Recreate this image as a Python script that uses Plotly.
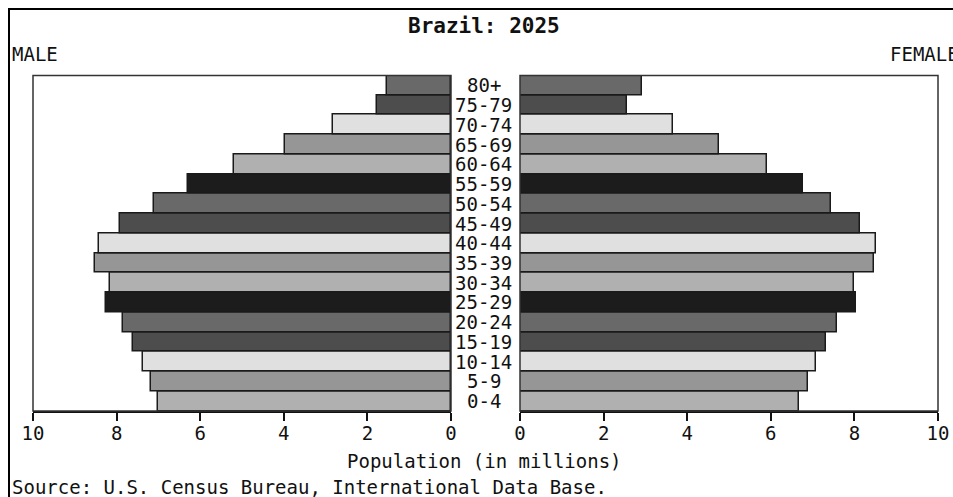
import plotly.graph_objects as go

# ---- data ----
age_groups = ["0-4", "5-9", "10-14", "15-19", "20-24", "25-29", "30-34", "35-39",
              "40-44", "45-49", "50-54", "55-59", "60-64", "65-69", "70-74", "75-79", "80+"]
male = [7.02, 7.18, 7.38, 7.61, 7.84, 8.25, 8.15, 8.52,
        8.43, 7.93, 7.11, 6.30, 5.18, 3.96, 2.82, 1.76, 1.54]
female = [6.67, 6.90, 7.09, 7.31, 7.59, 8.05, 8.00, 8.46,
          8.51, 8.14, 7.45, 6.77, 5.90, 4.76, 3.66, 2.57, 2.93]
bar_colors = ["#b0b0b0", "#969696", "#e0e0e0", "#4d4d4d", "#696969", "#1c1c1c"] * 3
bar_colors = bar_colors[:len(age_groups)]
tick_vals = [0, 2, 4, 6, 8, 10]
title_text = "Brazil: 2025"
x_title = "Population (in millions)"
source_text = "Source: U.S. Census Bureau, International Data Base."

W, H = 953, 497
FONT = "DejaVu Sans Mono"


def px(x):
    return x / W


def py(y):
    return 1 - y / H


fig = go.Figure()
fig.add_trace(go.Bar(
    y=age_groups, x=male, orientation="h", xaxis="x", yaxis="y",
    marker=dict(color=bar_colors, line=dict(color="#1a1a1a", width=1.5)),
    showlegend=False, hoverinfo="x+y"))
fig.add_trace(go.Bar(
    y=age_groups, x=female, orientation="h", xaxis="x2", yaxis="y2",
    marker=dict(color=bar_colors, line=dict(color="#1a1a1a", width=1.5)),
    showlegend=False, hoverinfo="x+y"))

y_dom = [py(411), py(75.5)]
axis_common = dict(
    tickvals=tick_vals, ticks="outside", ticklen=8, tickwidth=1.5, tickcolor="#111",
    showline=True, linecolor="#111", linewidth=2, showgrid=False, zeroline=False,
    tickfont=dict(family=FONT, size=19, color="#111"), fixedrange=True,
    ticklabelstandoff=-4, automargin=False,
)
yaxis_common = dict(
    type="category", categoryorder="array", categoryarray=age_groups,
    range=[-0.5, len(age_groups) - 0.5], showticklabels=False, showgrid=False,
    zeroline=False, showline=False, ticks="", domain=y_dom, fixedrange=True,
    automargin=False,
)

fig.update_layout(
    width=W, height=H, margin=dict(l=0, r=0, t=0, b=0, pad=0, autoexpand=False),
    paper_bgcolor="white", plot_bgcolor="white", bargap=0,
    font=dict(family=FONT, size=19, color="#111"),
    xaxis=dict(domain=[px(33), px(451)], range=[10, 0], anchor="y", **axis_common),
    xaxis2=dict(domain=[px(520), px(938)], range=[0, 10], anchor="y2", **axis_common),
    yaxis=dict(anchor="x", **yaxis_common),
    yaxis2=dict(anchor="x2", matches="y", **yaxis_common),
)

annotations = []
for g in age_groups:
    annotations.append(dict(text=g, x=px(483.5), y=g, xref="paper", yref="y",
                            showarrow=False, xanchor="center", yanchor="middle",
                            font=dict(family=FONT, size=19, color="#111")))
annotations += [
    dict(text="<b>" + title_text + "</b>", x=px(484), y=py(26), xref="paper", yref="paper",
         showarrow=False, xanchor="center", yanchor="middle",
         font=dict(family=FONT, size=21, color="#111")),
    dict(text="MALE", x=px(10), y=py(54), xref="paper", yref="paper",
         showarrow=False, xanchor="left", yanchor="middle",
         font=dict(family=FONT, size=19, color="#111")),
    dict(text="FEMALE", x=px(888), y=py(54), xref="paper", yref="paper",
         showarrow=False, xanchor="left", yanchor="middle",
         font=dict(family=FONT, size=19, color="#111")),
    dict(text=x_title, x=px(484), y=py(461), xref="paper", yref="paper",
         showarrow=False, xanchor="center", yanchor="middle",
         font=dict(family=FONT, size=19, color="#111")),
    dict(text=source_text, x=px(10), y=py(487), xref="paper", yref="paper",
         showarrow=False, xanchor="left", yanchor="middle",
         font=dict(family=FONT, size=19, color="#111")),
]
fig.update_layout(annotations=annotations)

shapes = [
    # panel frames
    dict(type="rect", xref="paper", yref="paper", x0=px(33), x1=px(451), y0=py(411), y1=py(75.5),
         line=dict(color="#333", width=1.5), layer="above"),
    dict(type="rect", xref="paper", yref="paper", x0=px(520), x1=px(938), y0=py(411), y1=py(75.5),
         line=dict(color="#333", width=1.5), layer="above"),
    # outer border (left and top)
    dict(type="line", xref="paper", yref="paper", x0=px(9), x1=px(9), y0=0, y1=py(8),
         line=dict(color="black", width=2)),
    dict(type="line", xref="paper", yref="paper", x0=px(8), x1=1, y0=py(9), y1=py(9),
         line=dict(color="black", width=2)),
]
fig.update_layout(shapes=shapes)

fig.write_html(
    "out.html",
    config={"displayModeBar": False},
    post_script="document.body.style.margin='0';document.body.style.overflow='hidden';"
                "document.documentElement.style.overflow='hidden';",
)
